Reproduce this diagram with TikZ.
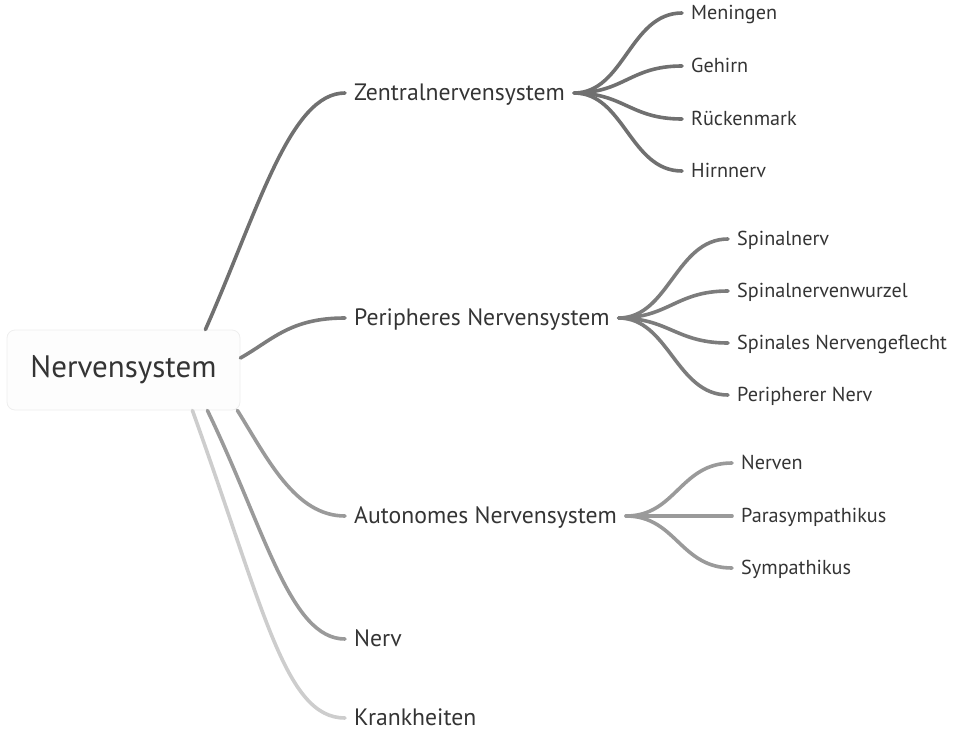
\documentclass[tikz,border=0pt]{standalone}
\usepackage{fontspec}
\usepackage{xcolor}
\setmainfont{PT Sans}
\definecolor{nsText}{RGB}{52,52,52}
\definecolor{nsDark}{RGB}{112,112,112}
\definecolor{nsMid}{RGB}{124,124,124}
\definecolor{nsLight}{RGB}{154,154,154}
\definecolor{nsPale}{RGB}{205,205,205}
\definecolor{nsBox}{RGB}{253,253,253}
\definecolor{nsBorder}{RGB}{238,238,238}
\tikzset{
    rootbox/.style={draw=nsBorder, fill=nsBox, rounded corners=8pt, line width=0.8pt,
        minimum width=233pt, minimum height=80pt, text=nsText,
        font=\fontsize{31}{36}\selectfont},
    topic/.style={anchor=west, inner xsep=9pt, inner ysep=0pt, text=nsText,
        text height=14.6pt, text depth=0pt, font=\fontsize{23.7}{28}\selectfont},
    leaf/.style={anchor=west, inner xsep=9pt, inner ysep=0pt, text=nsText,
        text height=13.2pt, text depth=0pt, font=\fontsize{20.2}{24}\selectfont},
    branch/.style={line width=3.6pt, line cap=round}
}

\begin{document}
\begin{tikzpicture}[x=1pt,y=-1pt]
    \useasboundingbox (0,0) rectangle (961,736);

    \node[rootbox] (root) at (123.5,370) {Nervensystem};

    % first level
    \node[topic] (zns) at (345,93) {Zentralnervensystem};
    \node[topic] (pns) at (345,318) {Peripheres Nervensystem};
    \node[topic] (ans) at (345,516) {Autonomes Nervensystem};
    \node[topic] (nerv) at (345,639) {Nerv};
    \node[topic] (krank) at (345,718) {Krankheiten};

    % second level
    \node[leaf] (men) at (682,13) {Meningen};
    \node[leaf] (geh) at (682,66) {Gehirn};
    \node[leaf] (rue) at (682,119) {Rückenmark};
    \node[leaf] (hirn) at (682,171) {Hirnnerv};

    \node[leaf] (spn) at (728,239) {Spinalnerv};
    \node[leaf] (spw) at (728,291) {Spinalnervenwurzel};
    \node[leaf] (spg) at (728,343) {Spinales Nervengeflecht};
    \node[leaf] (pern) at (728,395) {Peripherer Nerv};

    \node[leaf] (nrv) at (732,463) {Nerven};
    \node[leaf] (para) at (732,516) {Parasympathikus};
    \node[leaf] (sym) at (732,568) {Sympathikus};

    % root to first level
    \draw[branch, nsPale] ([xshift=-48pt]root.south east) .. controls +(72,200) and +(-60,0) .. (krank.west);
    \draw[branch, nsLight] ([xshift=-33pt]root.south east) .. controls +(58,120) and +(-55,0) .. (nerv.west);
    \draw[branch, nsLight] ([xshift=-3pt]root.south east) .. controls +(30,48) and +(-50,0) .. (ans.west);
    \draw[branch, nsMid] ([yshift=12pt]root.east) .. controls +(32,-18) and +(-55,0) .. (pns.west);
    \draw[branch, nsDark] ([xshift=-35pt]root.north east) .. controls +(53,-120) and +(-55,0) .. (zns.west);

    % Zentralnervensystem
    \draw[branch, nsDark] (zns.east) .. controls +(50,0) and +(-52,0) .. (men.west);
    \draw[branch, nsDark] (zns.east) .. controls +(50,0) and +(-52,0) .. (geh.west);
    \draw[branch, nsDark] (zns.east) .. controls +(50,0) and +(-52,0) .. (rue.west);
    \draw[branch, nsDark] (zns.east) .. controls +(50,0) and +(-52,0) .. (hirn.west);

    % Peripheres Nervensystem
    \draw[branch, nsMid] (pns.east) .. controls +(50,0) and +(-52,0) .. (spn.west);
    \draw[branch, nsMid] (pns.east) .. controls +(50,0) and +(-52,0) .. (spw.west);
    \draw[branch, nsMid] (pns.east) .. controls +(50,0) and +(-52,0) .. (spg.west);
    \draw[branch, nsMid] (pns.east) .. controls +(50,0) and +(-52,0) .. (pern.west);

    % Autonomes Nervensystem
    \draw[branch, nsLight] (ans.east) .. controls +(50,0) and +(-52,0) .. (nrv.west);
    \draw[branch, nsLight] (ans.east) .. controls +(50,0) and +(-52,0) .. (para.west);
    \draw[branch, nsLight] (ans.east) .. controls +(50,0) and +(-52,0) .. (sym.west);
\end{tikzpicture}
\end{document}
